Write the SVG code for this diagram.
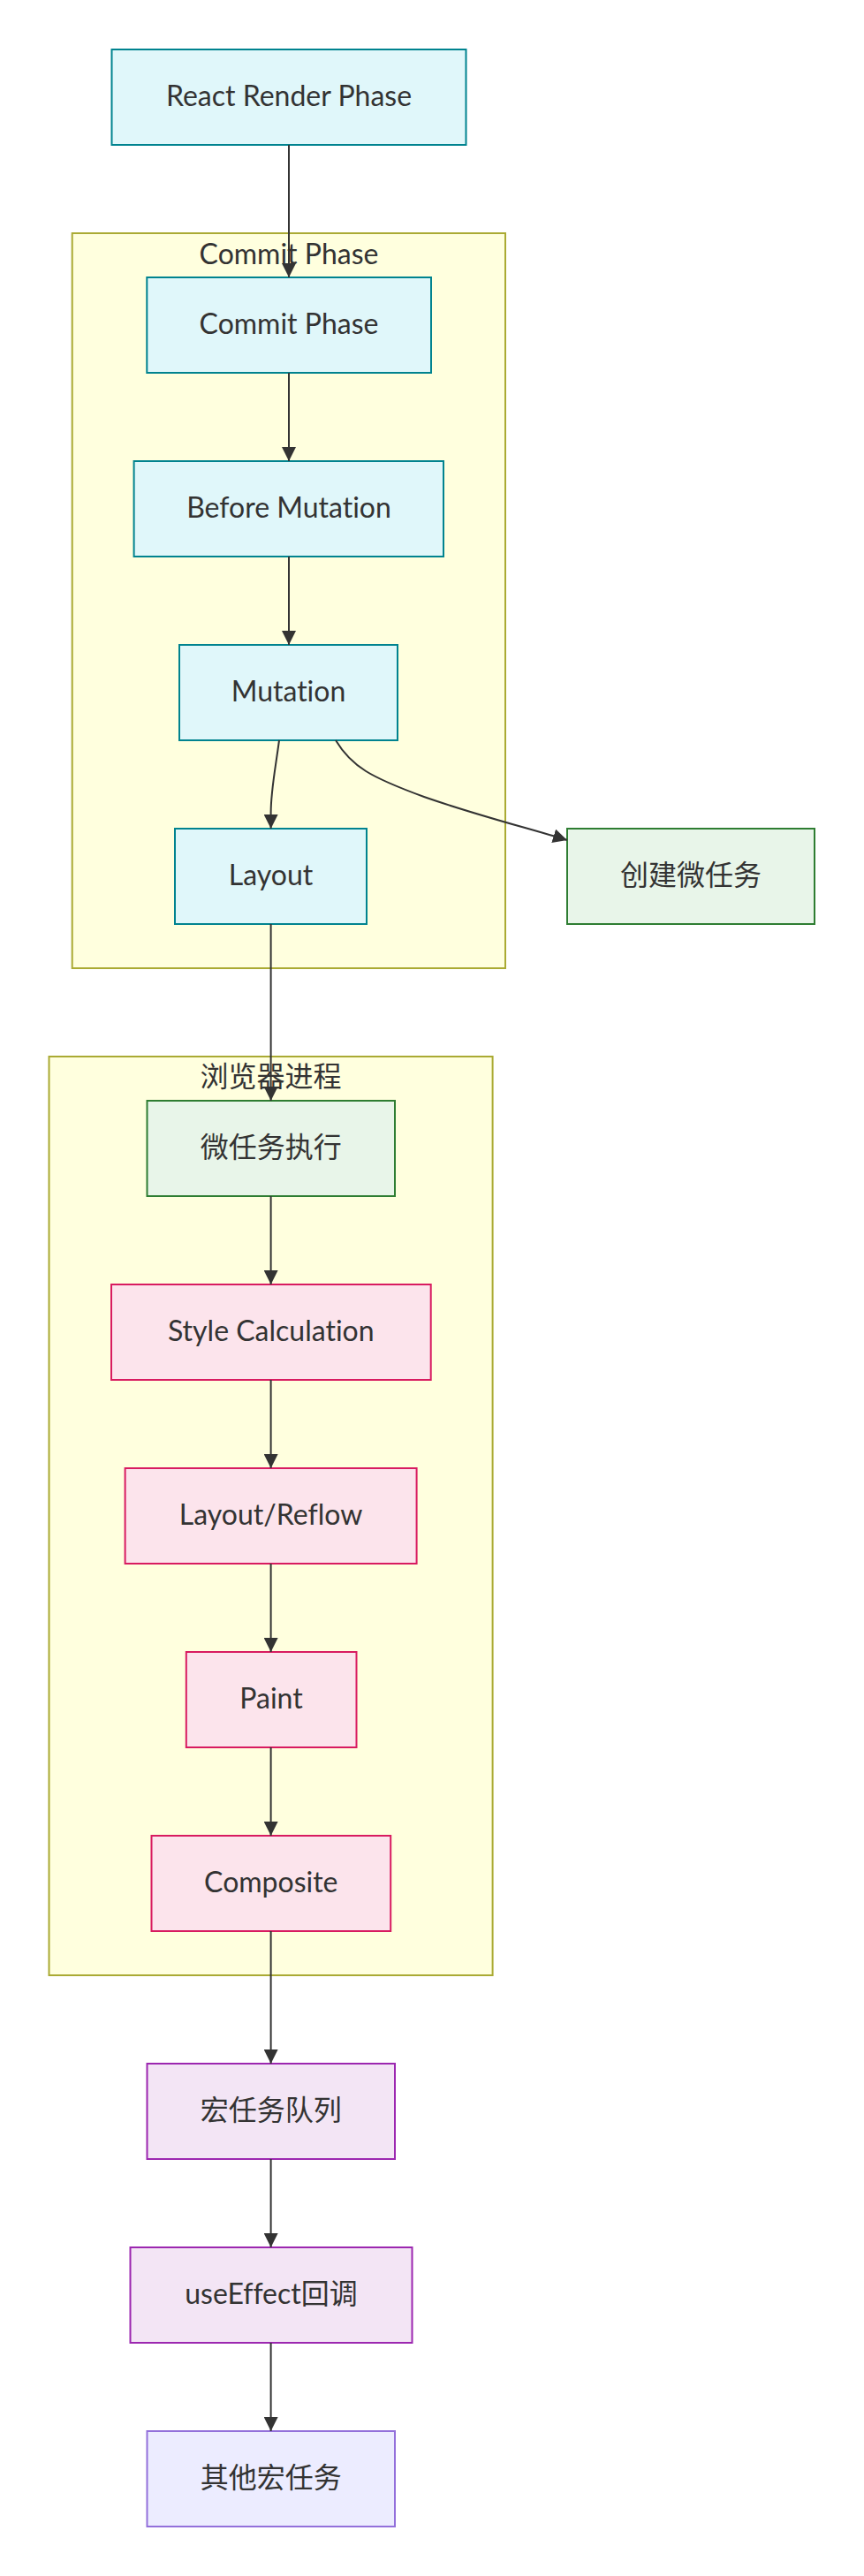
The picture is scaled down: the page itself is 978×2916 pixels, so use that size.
<svg xmlns="http://www.w3.org/2000/svg" width="978" height="2916" viewBox="0 0 978 2916">
<style>
  text { font-family: Lato, "Liberation Sans", "Noto Sans CJK SC", sans-serif; font-size: 32px; fill: #333333; text-anchor: middle; font-variant-ligatures: none; font-feature-settings: "liga" 0, "clig" 0; }
  .cluster rect { fill: #ffffde; stroke: #aaaa33; stroke-width: 2; }
  .node rect { stroke-width: 2; }
  .react rect { fill: #e0f7fa; stroke: #00838f; }
  .micro rect { fill: #e8f5e9; stroke: #2e7d32; }
  .browser rect { fill: #fce4ec; stroke: #d81b60; }
  .macro rect { fill: #f3e5f5; stroke: #9c27b0; }
  .plain rect { fill: #ececff; stroke: #9370db; }
  .edges path { fill: none; stroke: #333333; stroke-width: 2; marker-end: url(#arrow); }
</style>
<defs>
  <marker id="arrow" viewBox="0 0 10 10" refX="10" refY="5" markerUnits="userSpaceOnUse" markerWidth="16" markerHeight="16" orient="auto">
    <path d="M0,0 L10,5 L0,10 z" fill="#333333"/>
  </marker>
</defs>

<g id="cluster-commit" class="cluster">
  <rect x="81.7" y="264" width="490.3" height="832"/>
  <text x="327" y="298.5">Commit Phase</text>
</g>
<g id="cluster-browser" class="cluster">
  <rect x="55.5" y="1196" width="502.1" height="1040"/>
  <text x="306.5" y="1230">浏览器进程</text>
</g>

<g id="node-render" class="node react">
  <rect x="126.5" y="56" width="401" height="108"/>
  <text x="327" y="120">React Render Phase</text>
</g>
<g id="node-commit" class="node react">
  <rect x="166.3" y="314" width="321.7" height="108"/>
  <text x="327" y="378">Commit Phase</text>
</g>
<g id="node-before" class="node react">
  <rect x="151.6" y="522" width="350.4" height="108"/>
  <text x="327" y="586">Before Mutation</text>
</g>
<g id="node-mutation" class="node react">
  <rect x="203" y="730" width="247" height="108"/>
  <text x="326.5" y="794">Mutation</text>
</g>
<g id="node-layout" class="node react">
  <rect x="198" y="938" width="217" height="108"/>
  <text x="306.5" y="1002">Layout</text>
</g>
<g id="node-create-micro" class="node micro">
  <rect x="642" y="938" width="280" height="108"/>
  <text x="782" y="1002">创建微任务</text>
</g>
<g id="node-micro-exec" class="node micro">
  <rect x="166.5" y="1246" width="280.5" height="108"/>
  <text x="306.7" y="1310">微任务执行</text>
</g>
<g id="node-style" class="node browser">
  <rect x="126" y="1454" width="361.7" height="108"/>
  <text x="306.8" y="1518">Style Calculation</text>
</g>
<g id="node-reflow" class="node browser">
  <rect x="141.6" y="1662" width="330" height="108"/>
  <text x="306.6" y="1726">Layout/Reflow</text>
</g>
<g id="node-paint" class="node browser">
  <rect x="210.8" y="1870" width="192.7" height="108"/>
  <text x="307" y="1934">Paint</text>
</g>
<g id="node-composite" class="node browser">
  <rect x="171.5" y="2078" width="270.7" height="108"/>
  <text x="306.8" y="2142">Composite</text>
</g>
<g id="node-macro-queue" class="node macro">
  <rect x="166.5" y="2336" width="280.5" height="108"/>
  <text x="306.7" y="2400">宏任务队列</text>
</g>
<g id="node-useeffect" class="node macro">
  <rect x="147.5" y="2544" width="319" height="108"/>
  <text x="307" y="2608">useEffect回调</text>
</g>
<g id="node-other-macro" class="node plain">
  <rect x="166.5" y="2752" width="280.5" height="108"/>
  <text x="306.7" y="2816">其他宏任务</text>
</g>

<g id="connectors" class="edges">
  <path d="M327,164 L327,314"/>
  <path d="M327,422 L327,522"/>
  <path d="M327,630 L327,730"/>
  <path d="M316,838 C311,875 306.6,895 306.6,920 L306.6,938"/>
  <path d="M380,838 C398,868 420,880 480,902 C540,923 600,938 642,951"/>
  <path d="M306.6,1046 L306.6,1246"/>
  <path d="M306.6,1354 L306.6,1454"/>
  <path d="M306.6,1562 L306.6,1662"/>
  <path d="M306.6,1770 L306.6,1870"/>
  <path d="M306.6,1978 L306.6,2078"/>
  <path d="M306.6,2186 L306.6,2336"/>
  <path d="M306.6,2444 L306.6,2544"/>
  <path d="M306.6,2652 L306.6,2752"/>
</g>
</svg>
